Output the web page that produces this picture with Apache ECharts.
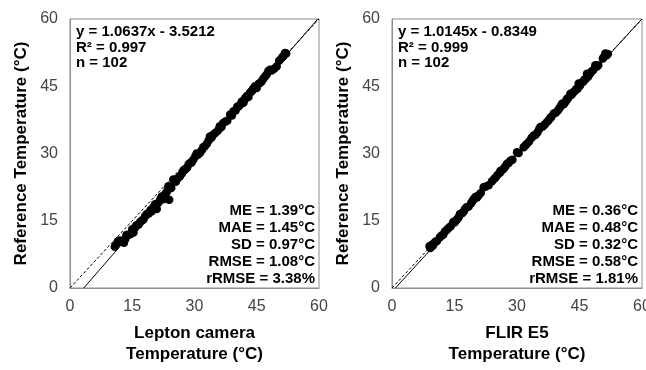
<!DOCTYPE html>
<html>
<head>
<meta charset="utf-8">
<script src="https://cdn.jsdelivr.net/npm/echarts@6/dist/echarts.min.js"></script>
<style>
html,body{margin:0;padding:0;background:#fff;}
#chart{width:646px;height:370px;}
</style>
</head>
<body>
<div id="chart"></div>
<script>
// ---- Data ----
var axisTicks = [0, 15, 30, 45, 60];

var leptonX = [10.8,11.2,11.6,12.0,13.0,13.3,13.6,14.1,14.5,15.0,15.3,15.7,16.0,16.5,16.9,17.3,17.7,18.1,18.5,19.0,
  19.4,19.7,20.1,20.5,20.9,21.3,21.8,22.1,22.5,23.0,23.4,23.7,23.9,24.4,24.9,25.5,26.0,26.5,27.0,27.4,
  27.7,28.2,28.6,28.9,29.3,29.7,30.2,30.8,31.3,31.8,32.1,32.5,33.0,33.4,33.7,34.1,34.5,35.0,35.6,36.1,
  36.5,36.9,37.4,37.9,38.6,39.0,39.4,39.9,40.3,40.6,41.0,41.4,41.8,42.2,42.6,43.0,43.4,43.8,44.2,44.6,
  45.0,45.4,45.8,46.2,46.6,47.0,47.4,47.8,48.2,48.6,49.2,49.8,50.4,51.0,51.4,51.8,52.1,42.0,44.0,36.0,
  30.5,25.2];
var leptonRef = [9.2,9.8,10.4,10.6,10.1,10.9,11.8,11.9,12.0,13.1,12.4,13.5,14.0,14.1,14.7,15.0,15.3,16.0,16.5,16.6,
  17.4,17.1,18.0,18.7,17.6,19.0,19.8,20.4,19.8,21.0,21.6,22.7,19.7,22.3,24.2,23.7,24.5,24.9,25.6,26.3,
  26.4,26.8,27.6,27.9,28.0,28.6,29.4,29.7,30.1,30.8,31.4,31.6,32.2,32.9,33.8,33.5,34.2,34.6,35.1,36.1,
  35.9,36.8,37.1,37.3,38.7,38.5,39.4,39.6,40.4,40.5,40.9,41.6,41.3,42.3,42.8,42.6,43.6,43.9,44.5,45.0,
  44.6,45.5,45.7,46.1,46.7,47.2,47.6,48.4,48.7,48.5,48.9,49.4,50.7,51.3,51.7,52.4,52.3,41.9,44.2,35.6,
  30.0,23.9];

var flirX = [9.0,9.2,9.5,9.8,10.1,10.4,10.8,11.5,11.9,12.3,13.2,13.6,14.1,14.7,15.0,15.6,16.0,16.3,16.8,17.2,
  17.5,17.9,18.4,19.0,19.6,20.0,20.4,20.8,21.3,22.0,22.4,23.2,24.0,24.5,24.8,25.3,25.9,26.3,26.8,27.2,
  27.6,28.0,28.4,28.9,30.0,30.4,31.6,32.0,32.4,32.9,33.5,34.0,34.4,34.9,35.3,35.6,36.2,36.7,37.2,37.6,
  38.2,38.8,39.3,39.8,40.2,40.5,40.8,41.2,41.5,41.9,42.3,42.8,43.1,43.4,43.8,44.2,44.5,44.8,45.1,45.5,
  45.9,46.2,46.5,46.8,47.1,47.5,47.9,48.3,48.8,49.2,49.5,50.6,50.9,51.2,51.5,51.8,42.0,38.0,26.0,19.3,
  15.3,12.7];
var flirRef = [9.3,8.9,9.6,9.4,10.0,10.3,10.5,11.3,11.7,11.9,13.0,13.4,13.8,14.7,14.6,15.3,15.8,16.5,16.7,17.0,
  17.6,18.0,18.2,18.9,19.8,20.3,20.2,20.7,21.2,22.5,22.6,22.9,23.8,24.3,24.6,25.2,25.7,26.2,26.6,27.1,
  27.7,27.9,28.4,28.6,30.3,30.1,31.4,31.8,32.2,32.7,33.5,34.0,34.1,34.7,35.4,35.9,36.0,36.5,37.0,37.4,
  38.1,38.9,39.1,39.6,40.1,40.6,41.1,41.0,41.4,41.9,42.4,43.3,43.1,43.5,43.9,44.4,44.4,45.6,45.1,45.8,
  46.0,46.5,46.6,47.8,47.2,47.8,48.3,48.6,49.7,49.4,49.7,51.2,51.6,52.3,51.9,52.2,42.2,38.0,26.1,19.4,
  15.0,12.6];

var leptonFit = {slope: 1.0637, intercept: -3.5212};
var flirFit = {slope: 1.0145, intercept: -0.8349};

var leptonStatsTop = ['y = 1.0637x - 3.5212', 'R² = 0.997', 'n = 102'];
var leptonStatsBottom = ['ME = 1.39°C', 'MAE = 1.45°C', 'SD = 0.97°C', 'RMSE = 1.08°C', 'rRMSE = 3.38%'];
var flirStatsTop = ['y = 1.0145x - 0.8349', 'R² = 0.999', 'n = 102'];
var flirStatsBottom = ['ME = 0.36°C', 'MAE = 0.48°C', 'SD = 0.32°C', 'RMSE = 0.58°C', 'rRMSE = 1.81%'];

var xTitles = ['Lepton camera\nTemperature (°C)', 'FLIR E5\nTemperature (°C)'];
var yTitle = 'Reference Temperature (°C)';

// ---- Build ----
var AX_MIN = axisTicks[0], AX_MAX = axisTicks[axisTicks.length - 1];
var AX_STEP = axisTicks[1] - axisTicks[0];
function zip(a, b) { return a.map(function (v, i) { return [v, b[i]]; }); }
function fitLine(f) {
  var x0 = Math.max(AX_MIN, (AX_MIN - f.intercept) / f.slope);
  var x1 = Math.min(AX_MAX, (AX_MAX - f.intercept) / f.slope);
  return [[x0, f.slope * x0 + f.intercept], [x1, f.slope * x1 + f.intercept]];
}

var grids = [
  {left: 70, top: 19, width: 249, height: 269},
  {left: 392, top: 19, width: 250, height: 269}
];
var FONT = '"Liberation Sans", Arial, sans-serif';

function makeAxis(kind, idx, name) {
  var isX = kind === 'x';
  return {
    type: 'value', gridIndex: idx, min: AX_MIN, max: AX_MAX, interval: AX_STEP,
    name: name, nameLocation: 'middle',
    nameGap: isX ? 35 : 38,
    nameRotate: isX ? 0 : 90,
    nameTextStyle: {fontFamily: FONT, fontSize: 17, fontWeight: 'bold', color: '#000', lineHeight: 21},
    axisLine: {show: true, lineStyle: {color: '#8c8c8c', width: 1}},
    axisTick: {show: false},
    splitLine: {show: false},
    axisLabel: {fontFamily: FONT, fontSize: 16, color: '#444', margin: isX ? 11 : 12,
      showMinLabel: true, showMaxLabel: true, hideOverlap: false}
  };
}

var series = [];
[[leptonX, leptonRef, leptonFit], [flirX, flirRef, flirFit]].forEach(function (d, i) {
  series.push({
    type: 'line', xAxisIndex: i, yAxisIndex: i, data: [[AX_MIN, AX_MIN], [AX_MAX, AX_MAX]],
    symbol: 'none', lineStyle: {color: '#000', width: 1, type: [3, 2]}, silent: true, z: 1
  });
  series.push({
    type: 'line', xAxisIndex: i, yAxisIndex: i, data: fitLine(d[2]),
    symbol: 'none', lineStyle: {color: '#000', width: 1}, silent: true, z: 1
  });
  series.push({
    type: 'scatter', xAxisIndex: i, yAxisIndex: i, data: zip(d[0], d[1]),
    symbol: 'circle', symbolSize: 8.5, itemStyle: {color: '#000', opacity: 1}, z: 3
  });
});

var graphics = [];
[[leptonStatsTop, leptonStatsBottom], [flirStatsTop, flirStatsBottom]].forEach(function (s, i) {
  var g = grids[i];
  s[0].forEach(function (t, k) {
    graphics.push({
      type: 'text', x: g.left + 6, y: g.top + 13 + k * 15.5,
      style: {text: t, font: 'bold 15px ' + FONT, fill: '#000', align: 'left', verticalAlign: 'middle'}
    });
  });
  s[1].forEach(function (t, k) {
    graphics.push({
      type: 'text', x: g.left + g.width - 4, y: g.top + g.height - 77 + k * 17,
      style: {text: t, font: 'bold 15px ' + FONT, fill: '#000', align: 'right', verticalAlign: 'middle'}
    });
  });
});

var option = {
  backgroundColor: '#fff',
  animation: false,
  grid: grids.map(function (g) {
    return {left: g.left, top: g.top, width: g.width, height: g.height,
      containLabel: false, outerBoundsMode: 'none',
      show: true, borderColor: '#8c8c8c', borderWidth: 1, backgroundColor: 'transparent'};
  }),
  xAxis: [makeAxis('x', 0, xTitles[0]), makeAxis('x', 1, xTitles[1])],
  yAxis: [makeAxis('y', 0, yTitle), makeAxis('y', 1, yTitle)],
  series: series,
  graphic: graphics
};

var chart = echarts.init(document.getElementById('chart'), null, {renderer: 'canvas'});
chart.setOption(option);
</script>
</body>
</html>
